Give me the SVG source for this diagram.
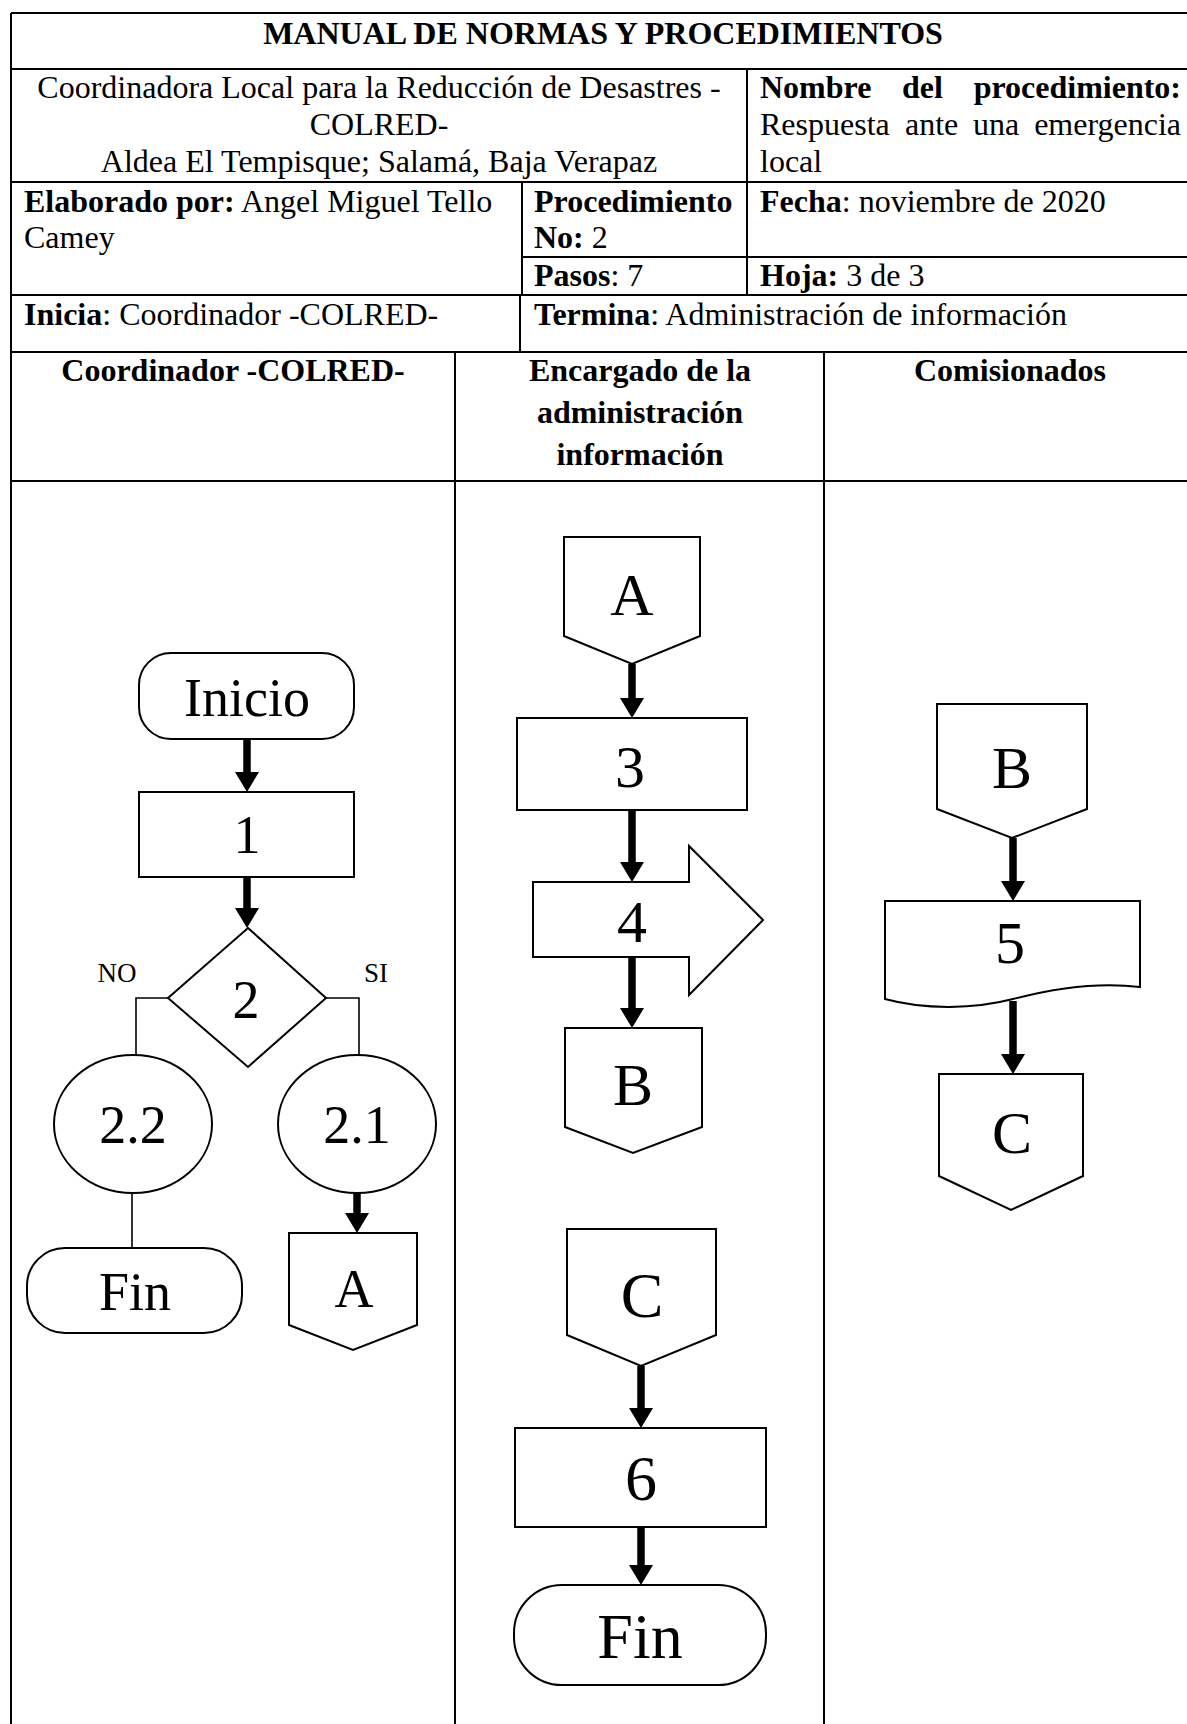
<svg xmlns="http://www.w3.org/2000/svg" width="1187" height="1724" viewBox="0 0 1187 1724">
<style>
text{font-family:"Liberation Serif","Times New Roman",serif;fill:#000}
.h{font-size:32px}
.b{font-weight:bold}
.c{text-anchor:middle}
.tl{stroke:#000;stroke-width:2;fill:none}
.s{stroke:#000;stroke-width:2;fill:#fff}
.n1{font-size:54px;text-anchor:middle}
.n2{font-size:60px;text-anchor:middle}
.n3{font-size:64px;text-anchor:middle}
.lbl{font-size:27px;text-anchor:middle}
.ln{stroke:#000;stroke-width:1.6;fill:none}
.ar{stroke:#000;stroke-width:7.5;fill:none;marker-end:url(#ah)}
</style>
<defs>
<marker id="ah" viewBox="0 0 20 24" markerWidth="20" markerHeight="24" refX="0" refY="12" orient="auto" markerUnits="userSpaceOnUse">
<path d="M0,0 L20,12 L0,24 Z" fill="#000"/>
</marker>
</defs>
<rect width="1187" height="1724" fill="#fff"/>

<g id="table">
<line class="tl" x1="11" y1="13" x2="1187" y2="13"/>
<line class="tl" x1="11" y1="13" x2="11" y2="1724"/>
<line class="tl" x1="11" y1="69" x2="1187" y2="69"/>
<line class="tl" x1="11" y1="182" x2="1187" y2="182"/>
<line class="tl" x1="522" y1="257" x2="1187" y2="257"/>
<line class="tl" x1="11" y1="295" x2="1187" y2="295"/>
<line class="tl" x1="11" y1="352" x2="1187" y2="352"/>
<line class="tl" x1="11" y1="481" x2="1187" y2="481"/>
<line class="tl" x1="747" y1="69" x2="747" y2="295"/>
<line class="tl" x1="522" y1="182" x2="522" y2="295"/>
<line class="tl" x1="520" y1="295" x2="520" y2="352"/>
<line class="tl" x1="455" y1="352" x2="455" y2="1724"/>
<line class="tl" x1="824" y1="352" x2="824" y2="1724"/>

<text class="h b c" x="603" y="44">MANUAL DE NORMAS Y PROCEDIMIENTOS</text>
<text class="h c" x="379" y="98">Coordinadora Local para la Reducción de Desastres -</text>
<text class="h c" x="379" y="135">COLRED-</text>
<text class="h c" x="379" y="172">Aldea El Tempisque; Salamá, Baja Verapaz</text>
<text class="h b" y="98"><tspan x="760">Nombre</tspan><tspan x="902">del</tspan><tspan x="1181" text-anchor="end">procedimiento:</tspan></text>
<text class="h" y="135"><tspan x="760">Respuesta</tspan><tspan x="905">ante</tspan><tspan x="973">una</tspan><tspan x="1181" text-anchor="end">emergencia</tspan></text>
<text class="h" x="760" y="172">local</text>
<text class="h" x="24" y="212"><tspan class="b">Elaborado por:</tspan> Angel Miguel Tello</text>
<text class="h" x="24" y="248">Camey</text>
<text class="h b" x="534" y="212">Procedimiento</text>
<text class="h" x="534" y="248"><tspan class="b">No:</tspan> 2</text>
<text class="h" x="534" y="286"><tspan class="b">Pasos</tspan>: 7</text>
<text class="h" x="760" y="212"><tspan class="b">Fecha</tspan>: noviembre de 2020</text>
<text class="h" x="760" y="286"><tspan class="b">Hoja:</tspan> 3 de 3</text>
<text class="h" x="24" y="325"><tspan class="b">Inicia</tspan>: Coordinador -COLRED-</text>
<text class="h" x="534" y="325"><tspan class="b">Termina</tspan>: Administración de información</text>
<text class="h b c" x="233" y="381">Coordinador -COLRED-</text>
<text class="h b c" x="640" y="381">Encargado de la</text>
<text class="h b c" x="640" y="423">administración</text>
<text class="h b c" x="640" y="465">información</text>
<text class="h b c" x="1010" y="381">Comisionados</text>
</g>

<g id="connectors">
<line class="ar" x1="247" y1="739" x2="247" y2="772"/>
<line class="ar" x1="247" y1="877" x2="247" y2="908"/>
<polyline class="ln" points="168,998 136,998 136,1056"/>
<polyline class="ln" points="326,998 359,998 359,1056"/>
<line class="ln" x1="132" y1="1193" x2="132" y2="1248"/>
<line class="ar" x1="357" y1="1193" x2="357" y2="1213"/>
<line class="ar" x1="632" y1="664" x2="632" y2="698"/>
<line class="ar" x1="632" y1="810" x2="632" y2="862"/>
<line class="ar" x1="632" y1="957" x2="632" y2="1008"/>
<line class="ar" x1="641" y1="1366" x2="641" y2="1408"/>
<line class="ar" x1="641" y1="1527" x2="641" y2="1565"/>
<line class="ar" x1="1013" y1="838" x2="1013" y2="881"/>
<line class="ar" x1="1013" y1="1001" x2="1013" y2="1054"/>
</g>

<g id="n-inicio">
<rect class="s" x="139" y="653" width="215" height="86" rx="32"/>
<text class="n1" x="247" y="716">Inicio</text>
</g>
<g id="n-1">
<rect class="s" x="139" y="792" width="215" height="85"/>
<text class="n1" x="247" y="853">1</text>
</g>
<g id="n-2">
<polygon class="s" points="248,928 326,998 248,1067 168,998"/>
<text class="n1" x="246" y="1018">2</text>
</g>
<g id="l-no"><text class="lbl" x="117" y="982">NO</text></g>
<g id="l-si"><text class="lbl" x="376" y="982">SI</text></g>
<g id="n-2-2">
<ellipse class="s" cx="133" cy="1124" rx="79" ry="69"/>
<text class="n1" x="133" y="1143">2.2</text>
</g>
<g id="n-2-1">
<ellipse class="s" cx="357" cy="1124" rx="79" ry="69"/>
<text class="n1" x="357" y="1143">2.1</text>
</g>
<g id="n-fin1">
<rect class="s" x="27" y="1248" width="215" height="85" rx="38"/>
<text class="n1" x="135" y="1310">Fin</text>
</g>
<g id="n-a1">
<polygon class="s" points="289,1233 417,1233 417,1325 353,1350 289,1325"/>
<text class="n1" x="354" y="1307">A</text>
</g>

<g id="n-a2">
<polygon class="s" points="564,537 700,537 700,636 632,664 564,636"/>
<text class="n2" x="632" y="615">A</text>
</g>
<g id="n-3">
<rect class="s" x="517" y="718" width="230" height="92"/>
<text class="n2" x="630" y="787">3</text>
</g>
<g id="n-4">
<polygon class="s" points="533,882 689,882 689,846 763,920 689,995 689,957 533,957"/>
<text class="n2" x="632" y="942">4</text>
</g>
<g id="n-b2">
<polygon class="s" points="565,1028 702,1028 702,1127 633,1153 565,1127"/>
<text class="n2" x="633" y="1105">B</text>
</g>
<g id="n-c2">
<polygon class="s" points="567,1229 716,1229 716,1335 641,1366 567,1335"/>
<text class="n3" x="642" y="1317">C</text>
</g>
<g id="n-6">
<rect class="s" x="515" y="1428" width="251" height="99"/>
<text class="n3" x="641" y="1500">6</text>
</g>
<g id="n-fin2">
<rect class="s" x="514" y="1585" width="252" height="100" rx="48"/>
<text class="n3" x="640" y="1658">Fin</text>
</g>

<g id="n-b3">
<polygon class="s" points="937,704 1087,704 1087,809 1012,838 937,809"/>
<text class="n2" x="1012" y="788">B</text>
</g>
<g id="n-5">
<path class="s" d="M885,901 H1140 V987 C1100,982 1055,988 1013,999 C975,1009 925,1010 885,999 Z"/>
<text class="n2" x="1010" y="963">5</text>
</g>
<g id="n-c3">
<polygon class="s" points="939,1074 1083,1074 1083,1176 1011,1210 939,1176"/>
<text class="n2" x="1012" y="1153">C</text>
</g>
</svg>
